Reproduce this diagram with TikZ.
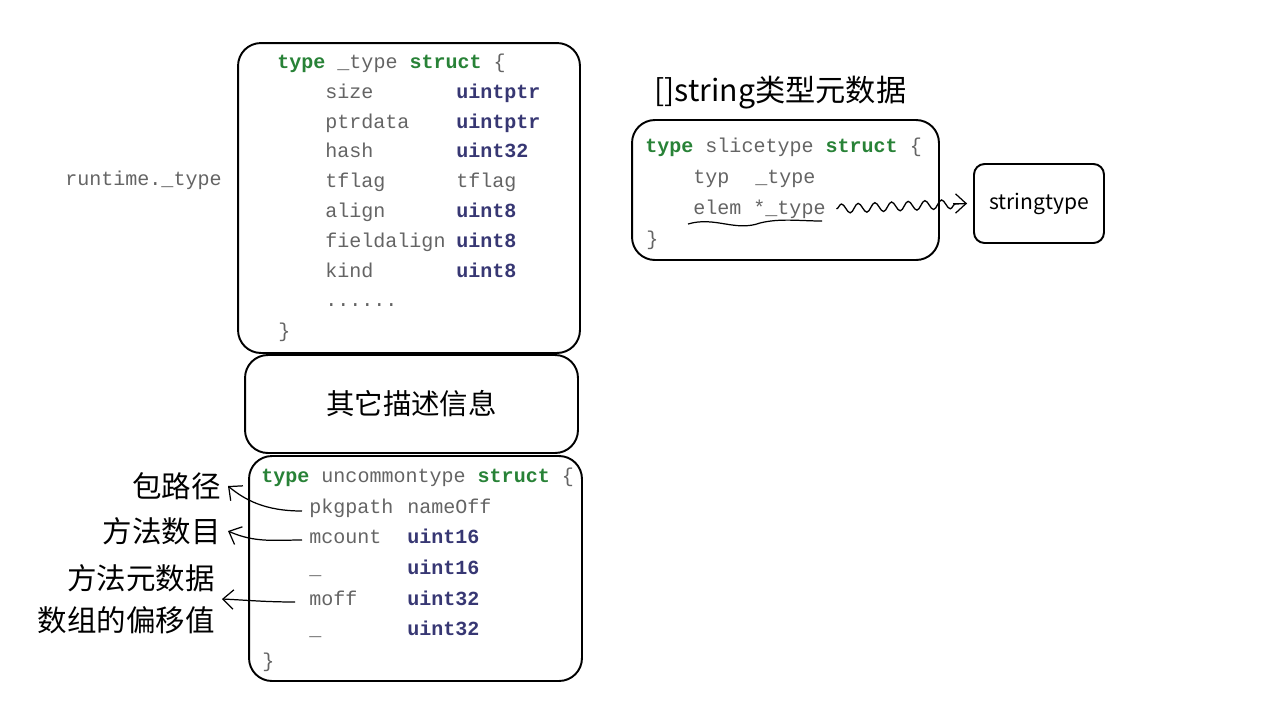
\documentclass[tikz,border=0pt]{standalone}
\usepackage{fontspec}
\setmonofont{Liberation Mono}
\newfontfamily\cjk{Noto Sans CJK SC}
\usetikzlibrary{arrows.meta,decorations.pathmorphing}
\definecolor{kwc}{RGB}{40,130,55}
\definecolor{tyc}{RGB}{55,55,115}
\definecolor{txc}{RGB}{100,100,100}
\newcommand{\kwd}[1]{\textcolor{kwc}{\textbf{#1}}}
\newcommand{\tyd}[1]{\textcolor{tyc}{\textbf{#1}}}
\begin{document}
\begin{tikzpicture}[x=0.02cm,y=-0.02cm,
  box/.style={draw,line width=1.1pt,rounded corners=13pt,inner sep=0pt,outer sep=0pt},
  code/.style={anchor=base west,inner sep=0pt,text=txc,font=\ttfamily\fontsize{11.4}{13}\selectfont},
  lab/.style={anchor=east,inner xsep=4pt,inner ysep=0pt,align=right,font=\cjk\fontsize{16.8}{24}\selectfont},
  conn/.style={line width=0.7pt,-{Straight Barb[length=6pt,width=11pt,line width=0.7pt]}}]
\useasboundingbox (0,0) rectangle (1286,718);
% boxes
\node[box,minimum width=6.84cm,minimum height=6.2cm] (b1) at (409,198) {};
\node[box,minimum width=6.66cm,minimum height=1.96cm,font=\cjk\fontsize{16.2}{18}\selectfont] (b2) at (411.5,404) {其它描述信息};
\node[box,minimum width=6.66cm,minimum height=4.5cm] (b3) at (415.5,568.5) {};
\node[box,minimum width=6.14cm,minimum height=2.8cm] (bs) at (785.5,190) {};
\node[box,rounded corners=6pt,minimum width=2.6cm,minimum height=1.58cm,font=\cjk\fontsize{12}{14}\selectfont] (bstr) at (1039,203.5) {stringtype};
% box 1 text
\node[code] (t1) at (277,68) {\kwd{type} \_type \kwd{struct} \{};
\node[code] (n1) at (325,98) {size};
\node[code] (n2) at (325,128) {ptrdata};
\node[code] (n3) at (325,157) {hash};
\node[code] (n4) at (325,187) {tflag};
\node[code] (n5) at (325,217) {align};
\node[code] (n6) at (325,247) {fieldalign};
\node[code] (n7) at (325,277) {kind};
\node[code] (n8) at (325,306) {......};
\node[code] (y1) at (456,98) {\tyd{uintptr}};
\node[code] (y2) at (456,128) {\tyd{uintptr}};
\node[code] (y3) at (456,157) {\tyd{uint32}};
\node[code] (y4) at (456,187) {tflag};
\node[code] (y5) at (456,217) {\tyd{uint8}};
\node[code] (y6) at (456,247) {\tyd{uint8}};
\node[code] (y7) at (456,277) {\tyd{uint8}};
\node[code] (e1) at (278,337) {\}};
\node[code] (rt) at (65,185) {runtime.\_type};
% box 3 text
\node[code] (t3) at (261,482) {\kwd{type} uncommontype \kwd{struct} \{};
\node[code] (m1) at (309,513) {pkgpath};
\node[code] (m2) at (309,543) {mcount};
\node[code] (m3) at (309,574) {\_};
\node[code] (m4) at (309,605) {moff};
\node[code] (m5) at (309,635) {\_};
\node[code] (z1) at (407,513) {nameOff};
\node[code] (z2) at (407,543) {\tyd{uint16}};
\node[code] (z3) at (407,574) {\tyd{uint16}};
\node[code] (z4) at (407,605) {\tyd{uint32}};
\node[code] (z5) at (407,635) {\tyd{uint32}};
\node[code] (e3) at (262,667) {\}};
% slicetype text
\node[anchor=west,inner sep=0pt,font=\cjk\fontsize{17.2}{19}\selectfont] (title) at (654,93) {[]string类型元数据};
\node[code] (s0) at (645,152) {\kwd{type} slicetype \kwd{struct} \{};
\node[code] (s1) at (693,183) {typ};
\node[code] (s2) at (755,183) {\_type};
\node[code] (s3) at (693,214) {elem *\_type};
\node[code] (s4) at (646,245) {\}};
\draw[line width=0.7pt] (688,224) .. controls (715,216) and (735,232) .. (760,223) .. controls (780,218) and (800,221) .. (822,221);
% labels
\node[lab] (l1) at (228,486) {包路径};
\node[lab] (l2) at (228,531) {方法数目};
\node[lab] (l3) at (222,599) {方法元数据\\数组的偏移值};
% connectors
\coordinate (c1) at (302,511);
\coordinate (c2) at (302,540);
\coordinate (c3) at (295,602);
\draw[conn] (c1) .. controls (265,511) and (245,500) .. (l1.east);
\draw[conn] (c2) .. controls (275,540) and (255,543) .. (l2.east);
\draw[conn] (c3) .. controls (265,602) and (245,600) .. (l3.east);
\draw[line width=0.75pt,decorate,decoration={snake,segment length=9.5pt,amplitude=2.6pt,post length=6pt}] ([xshift=6pt]s3.east) -- ([xshift=-4pt]bstr.west);
\draw[conn] ([xshift=-12pt]bstr.west) -- ([xshift=-4pt]bstr.west);
\end{tikzpicture}
\end{document}
